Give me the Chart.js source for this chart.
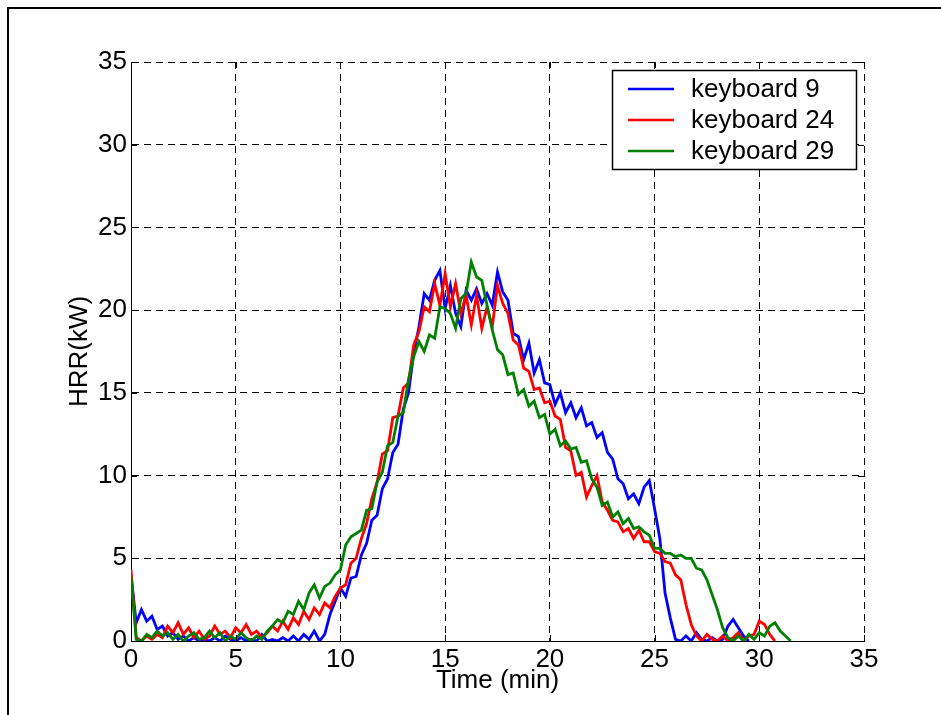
<!DOCTYPE html>
<html>
<head>
<meta charset="utf-8">
<title>HRR - keyboards</title>
<script src="https://cdn.jsdelivr.net/npm/chart.js@4.4.1/dist/chart.umd.min.js"></script>
<style>
  html, body { margin: 0; padding: 0; background: #fff; }
  canvas { display: block; }
</style>
</head>
<body>
<canvas id="hrrChart" width="941" height="715"></canvas>
<script>
// heat release rate, one sample every 0.25 min from t = 0
let sampleStep = 0.25;

let seriesNames = ["keyboard 9", "keyboard 24", "keyboard 29"];
let seriesColors = ["#0000ff", "#ff0000", "#008000"];

let xTicks = [0, 5, 10, 15, 20, 25, 30, 35];
let yTicks = [0, 5, 10, 15, 20, 25, 30, 35];

let hrr9 = [
  4.0, 1.1, 1.9, 1.2, 1.5, 0.7, 0.9, 0.3,
  0.5, 0.1, 0.3, 0.0, 0.2, 0.0, 0.1, 0.0,
  0.2, 0.0, 0.3, 0.1, 0.0, 0.2, 0.0, 0.1,
  0.0, 0.4, 0.0, 0.1, 0.0, 0.2, 0.0, 0.3,
  0.0, 0.4, 0.1, 0.6, 0.0, 0.4, 1.6, 2.4,
  3.2, 2.7, 3.8, 3.9, 5.2, 5.9, 7.3, 7.6,
  9.2, 9.8, 11.4, 11.9, 14.0, 15.0, 17.4, 19.0,
  21.0, 20.6, 21.8, 22.4, 20.1, 21.5, 19.8, 19.0,
  21.2, 20.6, 21.3, 20.4, 21.0, 20.3, 22.3, 21.1,
  20.6, 18.6, 18.4, 17.0, 18.0, 16.2, 17.0, 15.6,
  15.5, 14.3, 15.0, 13.8, 14.4, 13.5, 14.1, 13.0,
  13.2, 12.3, 12.6, 11.4, 11.0, 9.8, 9.5, 8.6,
  8.9, 8.3, 9.3, 9.7, 8.0, 6.2, 2.9, 1.4,
  0.1, 0.0, 0.3, 0.0, 0.5, 0.1, 0.0, 0.2,
  0.0, 0.1, 0.9, 1.3, 0.8, 0.3, 0.0, null,
  null, null, null, null, null, null, null, null,
  null
];

let hrr24 = [
  4.3, 0.2, 0.0, 0.3, 0.1, 0.4, 0.2, 0.9,
  0.5, 1.1, 0.4, 0.8, 0.2, 0.6, 0.1, 0.3,
  0.9, 0.4, 0.6, 0.2, 0.8, 0.5, 1.0, 0.4,
  0.6, 0.2, 0.5, 0.9, 0.6, 1.2, 0.7, 1.4,
  1.0, 1.8, 1.3, 2.0, 1.6, 2.3, 2.0, 2.7,
  3.2, 3.4, 4.7, 5.0, 6.2, 7.1, 8.6, 9.6,
  11.3, 11.5, 13.5, 13.6, 15.3, 15.6, 17.9, 18.7,
  20.2, 19.9, 21.6, 20.3, 22.2, 20.2, 21.6, 19.8,
  20.9, 19.1, 20.9, 18.9, 20.2, 19.0, 21.5, 20.4,
  19.8, 18.2, 17.9, 16.5, 16.3, 15.2, 15.3, 14.4,
  14.5, 13.6, 13.4, 11.7, 11.5, 10.0, 10.2, 8.7,
  9.4, 10.0, 8.4, 7.9, 7.3, 7.2, 6.6, 6.8,
  6.2, 6.7, 6.0, 6.0, 5.4, 5.3, 4.8, 4.7,
  4.0, 3.7, 2.2, 1.0, 0.3, 0.0, 0.4, 0.1,
  0.0, 0.3, 0.0, 0.2, 0.5, 0.0, 0.3, 0.4,
  1.2, 1.0, 0.4, 0.0, null, null, null, null,
  null
];

let hrr29 = [
  3.9, 0.1, 0.0, 0.4, 0.2, 0.6, 0.3, 0.5,
  0.1, 0.4, 0.0, 0.3, 0.5, 0.1, 0.2, 0.6,
  0.2, 0.5, 0.0, 0.3, 0.1, 0.5, 0.2, 0.0,
  0.3, 0.1, 0.6, 0.9, 1.3, 1.1, 1.8, 1.6,
  2.4, 1.9, 2.9, 3.4, 2.6, 3.3, 3.5, 4.0,
  4.3, 5.8, 6.3, 6.5, 6.7, 7.9, 8.0, 9.6,
  10.2, 11.8, 12.0, 13.6, 13.8, 15.8, 17.2, 18.1,
  17.5, 18.5, 18.3, 20.2, 20.1, 19.8, 18.9, 20.7,
  21.0, 22.9, 22.0, 21.8, 20.3, 18.8, 17.6, 17.3,
  16.1, 16.2, 14.9, 15.2, 14.2, 14.5, 13.5, 13.7,
  12.5, 12.8, 11.8, 12.1, 11.6, 11.7, 10.8, 10.9,
  9.8, 9.3, 8.2, 8.4, 7.5, 7.8, 7.1, 7.4,
  6.8, 6.9, 6.6, 6.4, 5.6, 5.6, 5.3, 5.3,
  5.1, 5.2, 5.0, 5.0, 4.4, 4.3, 3.7, 2.8,
  1.9, 0.8, 0.2, 0.0, 0.3, 0.0, 0.4, 0.1,
  0.5, 0.3, 0.9, 1.1, 0.6, 0.3, 0.0, null,
  null
];

let fontFamily = "'Liberation Sans', Arial, Helvetica, sans-serif";

function toPoints(values) {
  return values.map((v, i) => ({ x: i * sampleStep, y: v }));
}

// black frame around the figure
let figureFrame = {
  id: "figureFrame",
  beforeDraw(chart) {
    let ctx = chart.ctx;
    ctx.save();
    ctx.fillStyle = "#fff";
    ctx.fillRect(0, 0, chart.width, chart.height);
    ctx.strokeStyle = "#000";
    ctx.lineWidth = 2;
    ctx.strokeRect(8, 8, chart.width + 20, chart.height + 20);
    ctx.restore();
  }
};

// short inward tick marks on all four sides of the axes box
let insideTicks = {
  id: "insideTicks",
  afterDatasetsDraw(chart) {
    let ctx = chart.ctx;
    let area = chart.chartArea;
    let xs = chart.scales.x, ys = chart.scales.y;
    let len = 6;
    ctx.save();
    ctx.strokeStyle = "#000";
    ctx.lineWidth = 1;
    ctx.beginPath();
    xTicks.forEach(t => {
      let px = Math.round(xs.getPixelForValue(t)) + 0.5;
      ctx.moveTo(px, area.bottom); ctx.lineTo(px, area.bottom - len);
      ctx.moveTo(px, area.top); ctx.lineTo(px, area.top + len);
    });
    yTicks.forEach(v => {
      let py = Math.round(ys.getPixelForValue(v)) + 0.5;
      ctx.moveTo(area.left, py); ctx.lineTo(area.left + len, py);
      ctx.moveTo(area.right, py); ctx.lineTo(area.right - len, py);
    });
    ctx.stroke();
    ctx.restore();
  }
};

// boxed legend in the upper right corner of the plot
let boxLegend = {
  id: "boxLegend",
  afterDraw(chart) {
    let ctx = chart.ctx;
    let left = 612, top = 70, width = 244, height = 99;
    let rowY = [89, 120, 151];
    ctx.save();
    ctx.fillStyle = "#fff";
    ctx.fillRect(left, top, width, height);
    ctx.strokeStyle = "#000";
    ctx.lineWidth = 1.5;
    ctx.strokeRect(left + 0.5, top + 0.5, width, height);
    ctx.font = "26px " + fontFamily;
    ctx.textBaseline = "middle";
    ctx.textAlign = "left";
    chart.data.datasets.forEach((ds, i) => {
      ctx.strokeStyle = ds.borderColor;
      ctx.lineWidth = 2.5;
      ctx.beginPath();
      ctx.moveTo(628, rowY[i]);
      ctx.lineTo(674, rowY[i]);
      ctx.stroke();
      ctx.fillStyle = "#000";
      ctx.fillText(ds.label, 691, rowY[i] + 1);
    });
    ctx.restore();
  }
};

let ctx = document.getElementById("hrrChart").getContext("2d");
let hrrChart = new Chart(ctx, {
  type: "line",
  data: {
    datasets: [
      { label: seriesNames[0], data: toPoints(hrr9), borderColor: seriesColors[0], order: 2 },
      { label: seriesNames[1], data: toPoints(hrr24), borderColor: seriesColors[1], order: 1 },
      { label: seriesNames[2], data: toPoints(hrr29), borderColor: seriesColors[2], order: 0 }
    ]
  },
  options: {
    responsive: false,
    animation: false,
    devicePixelRatio: 1,
    layout: { padding: { top: 62, right: 77, left: 0, bottom: 0 } },
    elements: {
      line: { borderWidth: 2.8, tension: 0, fill: false },
      point: { radius: 0, hoverRadius: 0 }
    },
    plugins: {
      legend: { display: false },
      tooltip: { enabled: false }
    },
    scales: {
      x: {
        type: "linear",
        min: 0,
        max: 35,
        afterBuildTicks: scale => { scale.ticks = xTicks.map(v => ({ value: v })); },
        afterFit: scale => { scale.height = 74; },
        ticks: {
          color: "#000",
          padding: 3,
          maxRotation: 0,
          font: { family: fontFamily, size: 26 }
        },
        grid: { color: "#000", lineWidth: 1, drawTicks: false },
        border: { display: true, color: "#000", width: 1, dash: [7, 5] },
        title: {
          display: true,
          text: "Time (min)",
          color: "#000",
          font: { family: fontFamily, size: 26 },
          padding: { top: 0, bottom: 19 }
        }
      },
      y: {
        min: 0,
        max: 35,
        afterBuildTicks: scale => { scale.ticks = yTicks.map(v => ({ value: v })); },
        afterFit: scale => { scale.width = 131; },
        ticks: {
          color: "#000",
          padding: 4,
          font: { family: fontFamily, size: 26 }
        },
        grid: { color: "#000", lineWidth: 1, drawTicks: false },
        border: { display: true, color: "#000", width: 1, dash: [7, 5] },
        title: {
          display: true,
          text: "HRR(kW)",
          color: "#000",
          font: { family: fontFamily, size: 26 },
          padding: { top: 64, bottom: 0 }
        }
      }
    }
  },
  plugins: [figureFrame, insideTicks, boxLegend]
});
</script>
</body>
</html>
